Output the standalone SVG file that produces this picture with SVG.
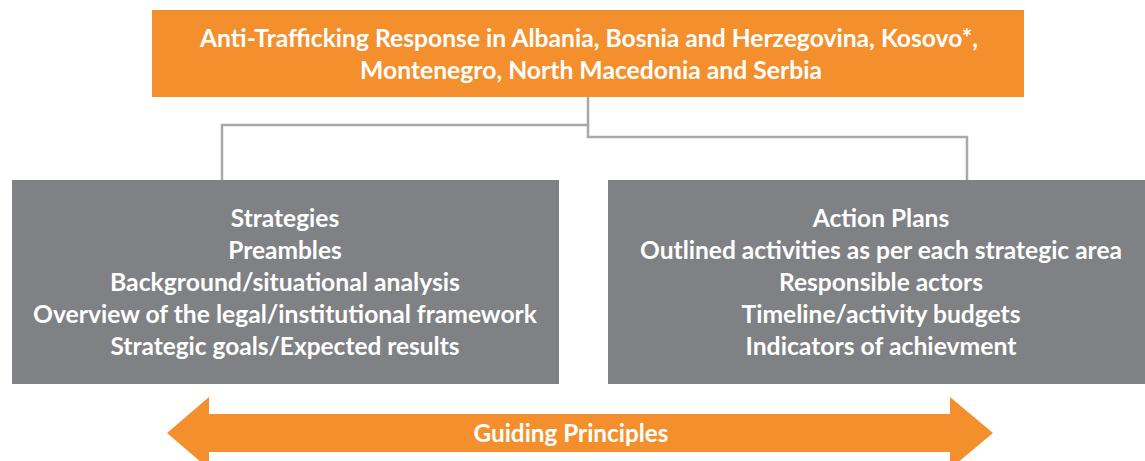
<svg xmlns="http://www.w3.org/2000/svg" width="1145" height="461" viewBox="0 0 1145 461">
<style>
.orange{fill:#F3902D}
.gray{fill:#808184}
.t{font-family:Lato,"Open Sans","Liberation Sans",sans-serif;font-weight:bold;fill:#FFFFFF;text-anchor:middle;font-size:24.5px}
.conn{fill:none;stroke:#A7A9AC;stroke-width:2.5}
</style>
<rect width="1145" height="461" fill="#FFFFFF"/>
<g id="connectors">
<polyline class="conn" points="588,97 588,125 222,125 222,180"/>
<polyline class="conn" points="588,125 588,137 967,137 967,180"/>
</g>
<g id="top">
<rect class="orange" x="152" y="10" width="872" height="87"/>
<text class="t" x="589" y="47" textLength="778" lengthAdjust="spacingAndGlyphs">Anti-Trafficking Response in Albania, Bosnia and Herzegovina, Kosovo*,</text>
<text class="t" x="591" y="79" textLength="462" lengthAdjust="spacingAndGlyphs">Montenegro, North Macedonia and Serbia</text>
</g>
<g id="strategies">
<rect class="gray" x="12" y="180" width="547" height="204"/>
<text class="t" x="285" y="227">Strategies</text>
<text class="t" x="285" y="259">Preambles</text>
<text class="t" x="285" y="291" textLength="350" lengthAdjust="spacingAndGlyphs">Background/situational analysis</text>
<text class="t" x="285" y="323" textLength="504" lengthAdjust="spacingAndGlyphs">Overview of the legal/institutional framework</text>
<text class="t" x="285" y="355" textLength="349" lengthAdjust="spacingAndGlyphs">Strategic goals/Expected results</text>
</g>
<g id="action-plans">
<rect class="gray" x="608" y="180" width="537" height="204"/>
<text class="t" x="881" y="227">Action Plans</text>
<text class="t" x="881" y="259" textLength="482" lengthAdjust="spacingAndGlyphs">Outlined activities as per each strategic area</text>
<text class="t" x="881" y="291">Responsible actors</text>
<text class="t" x="881" y="323" textLength="279" lengthAdjust="spacingAndGlyphs">Timeline/activity budgets</text>
<text class="t" x="881" y="355" textLength="271" lengthAdjust="spacingAndGlyphs">Indicators of achievment</text>
</g>
<g id="guiding-principles">
<polygon class="orange" points="167,433 209,397 209,414 950,414 950,397 993,433 950,469 950,452 209,452 209,469"/>
<text class="t" x="571" y="442" textLength="195" lengthAdjust="spacingAndGlyphs">Guiding Principles</text>
</g>
</svg>
